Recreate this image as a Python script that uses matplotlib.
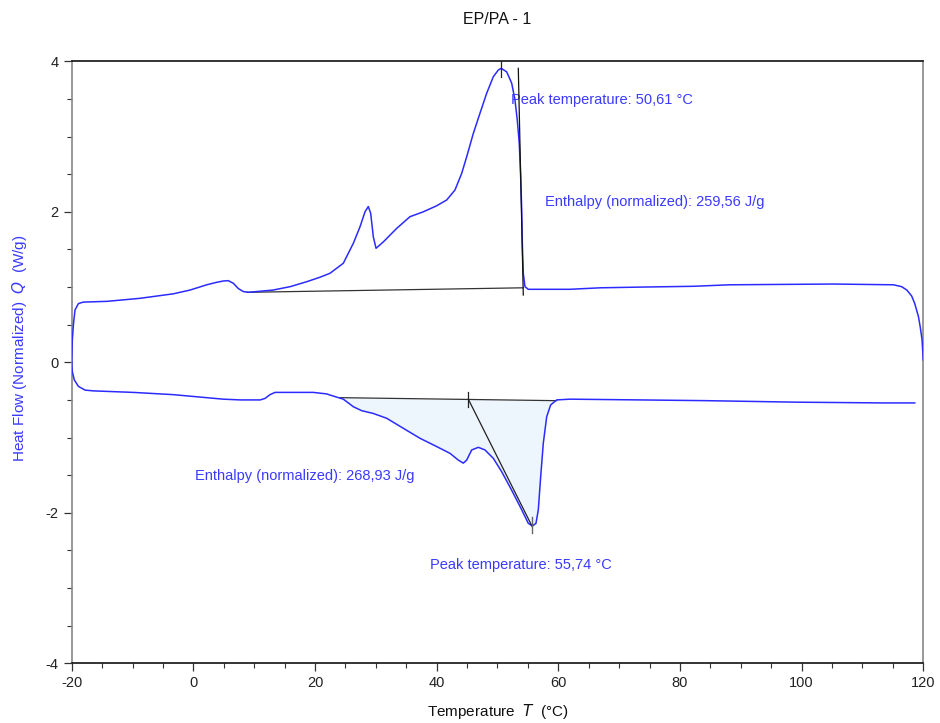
import numpy as np
import matplotlib
matplotlib.use("Agg")
import matplotlib.pyplot as plt
from matplotlib.ticker import MultipleLocator

plt.rcParams['font.family'] = ['Liberation Sans', 'DejaVu Sans']
plt.rcParams['axes.unicode_minus'] = False

# Upper trace (cooling/crystallisation), temperature in °C, heat flow in W/g
upper_T = [-20.0, -19.9, -19.7, -19.46, -18.9, -18.1, -14.2, -8.8, -3.3, -0.55, 2.2,
           3.84, 4.9, 5.74, 6.57, 7.39, 8.21, 9.03, 10.4, 13.1, 15.9, 18.6, 20.8,
           22.46, 24.65, 26.29, 27.39, 28.22, 28.76, 29.15, 29.58, 30.03, 31.23,
           33.43, 35.61, 37.8, 40.0, 41.65, 43.01, 44.11, 44.93, 46.02, 47.12,
           48.22, 49.31, 50.13, 50.61, 51.51, 52.33, 52.87, 53.25, 53.58, 53.81,
           53.98, 54.08, 54.24, 54.52, 55.06, 61.9, 66.9, 74.0, 82.2, 88.2, 105.2,
           115.1, 116.45, 117.3, 118.1, 118.6, 119.2, 119.5, 119.8, 120.0]
upper_Q = [0.0, 0.30, 0.52, 0.695, 0.78, 0.80, 0.81, 0.85, 0.91, 0.96, 1.03,
           1.063, 1.08, 1.085, 1.05, 0.98, 0.94, 0.93, 0.94, 0.96, 1.005, 1.07, 1.13,
           1.183, 1.316, 1.58, 1.80, 2.00, 2.07, 1.98, 1.67, 1.515, 1.60,
           1.78, 1.935, 2.00, 2.08, 2.157, 2.29, 2.51, 2.73, 3.04, 3.31,
           3.575, 3.795, 3.884, 3.907, 3.86, 3.71, 3.49, 3.22, 2.91, 2.47,
           2.02, 1.58, 1.18, 1.005, 0.97, 0.97, 0.99, 1.00, 1.01, 1.03, 1.04,
           1.03, 1.005, 0.96, 0.88, 0.78, 0.61, 0.47, 0.30, 0.03]

# Lower trace (heating/melting)
lower_T = [-20.0, -19.9, -19.57, -18.9, -17.8, -16.4, -9.9, -3.3, 4.9, 7.7, 11.0,
           11.78, 12.6, 13.42, 14.2, 17.5, 19.7, 21.9, 22.46, 24.65, 26.29, 27.67,
           29.58, 31.78, 34.51, 37.26, 40.0, 42.19, 43.56, 44.38, 44.93, 45.76,
           46.85, 47.94, 49.31, 50.69, 52.33, 53.98, 55.06, 55.74, 56.33, 56.71,
           57.10, 57.53, 58.09, 58.74, 59.73, 61.9, 73.4, 84.4, 99.2, 113.4, 118.6]
lower_Q = [0.0, -0.125, -0.235, -0.32, -0.37, -0.38, -0.40, -0.43, -0.49, -0.50, -0.50,
           -0.48, -0.43, -0.40, -0.40, -0.40, -0.40, -0.42, -0.435, -0.49, -0.59, -0.643,
           -0.68, -0.744, -0.877, -1.01, -1.12, -1.21, -1.30, -1.34, -1.30, -1.165,
           -1.13, -1.165, -1.276, -1.454, -1.70, -1.96, -2.14, -2.175, -2.14, -1.96,
           -1.52, -1.076, -0.723, -0.567, -0.50, -0.49, -0.50, -0.51, -0.53, -0.54, -0.54]

# Evaluation results
peak_upper_T, peak_upper_Q = 50.61, 3.907
peak_lower_T, peak_lower_Q = 55.74, -2.175
enthalpy_upper = "259,56"
enthalpy_lower = "268,93"

# Integration baselines and construction lines
upper_base_T = [8.8, 54.24]
upper_base_Q = [0.93, 0.99]
upper_edge_T = [53.42, 54.24]
upper_edge_Q = [3.907, 0.894]
lower_base_T = [24.1, 59.73]
lower_base_Q = [-0.47, -0.51]
lower_tangent_T = [45.2, 55.72]
lower_tangent_Q = [-0.49, -2.185]

blue = '#3a3aff'
line_blue = '#2b2bff'

fig = plt.figure(figsize=(9.4, 7.23), dpi=100)
ax = fig.add_axes([0.0763, 0.0826, 0.9059, 0.8326])

# Shaded melting area between the trace and its baseline
lt = np.array(lower_T)
lq = np.array(lower_Q)
mask = (lt > lower_base_T[0]) & (lt < lower_base_T[1])
ft = np.concatenate([[lower_base_T[0]], lt[mask], [lower_base_T[1]]])
fq = np.concatenate([[lower_base_Q[0]], lq[mask], [lower_base_Q[1]]])
fb = np.interp(ft, lower_base_T, lower_base_Q)
ax.fill_between(ft, fq, fb, color='#edf5fd', zorder=1, lw=0)

ax.plot(upper_T, upper_Q, color=line_blue, lw=1.1, zorder=3)
ax.plot(lower_T, lower_Q, color=line_blue, lw=1.1, zorder=3)

ax.plot(upper_base_T, upper_base_Q, color='#333333', lw=0.9, zorder=2)
ax.plot(upper_edge_T, upper_edge_Q, color='#111111', lw=0.9, zorder=4)
ax.plot(lower_base_T, lower_base_Q, color='#333333', lw=0.9, zorder=2)
ax.plot(lower_tangent_T, lower_tangent_Q, color='#222222', lw=0.9, zorder=4)

# Peak and onset markers
ax.plot([peak_upper_T, peak_upper_T], [4.0, 3.795], color='#222222', lw=0.9, zorder=4)
ax.plot([lower_tangent_T[0], lower_tangent_T[0]], [-0.39, -0.59],
        color='#222222', lw=0.9, zorder=4)
ax.plot([peak_lower_T, peak_lower_T], [-2.05, -2.27], color='#666666', lw=1.0, zorder=4)

fs = 10.5
ax.text(52.2, 3.486, f"Peak temperature: {peak_upper_T:.2f} °C".replace('.', ','),
        color=blue, fontsize=fs, va='center', ha='left')
ax.text(57.8, 2.13, f"Enthalpy (normalized): {enthalpy_upper} J/g",
        color=blue, fontsize=fs, va='center', ha='left')
ax.text(0.27, -1.51, f"Enthalpy (normalized): {enthalpy_lower} J/g",
        color=blue, fontsize=fs, va='center', ha='left')
ax.text(38.9, -2.69, f"Peak temperature: {peak_lower_T:.2f} °C".replace('.', ','),
        color=blue, fontsize=fs, va='center', ha='left')

ax.set_xlim(-20, 120)
ax.set_ylim(-4, 4)
ax.xaxis.set_major_locator(MultipleLocator(20))
ax.xaxis.set_minor_locator(MultipleLocator(5))
ax.yaxis.set_major_locator(MultipleLocator(2))
ax.yaxis.set_minor_locator(MultipleLocator(0.5))
ax.tick_params(which='major', direction='out', length=6, width=0.9, color='#333333',
               labelsize=10.5, labelcolor='#222222')
ax.tick_params(which='minor', direction='out', length=3.5, width=0.8, color='#333333')
ax.tick_params(top=False, right=False)

for side in ['top', 'bottom']:
    ax.spines[side].set_color('#111111')
for side in ['left', 'right']:
    ax.spines[side].set_color('#888888')
for s in ax.spines.values():
    s.set_linewidth(1.2)

ax.set_xlabel(r"Temperature  $\it{T}$  (°C)", fontsize=11, color='#111111', labelpad=8)
ax.set_ylabel(r"Heat Flow (Normalized)  $\it{Q}$  (W/g)", fontsize=11, color=blue)
ax.yaxis.set_label_coords(-0.050, 0.524)
ax.set_title("EP/PA - 1", fontsize=11.5, color='#111111', pad=27)

fig.savefig("out.png", dpi=100)
